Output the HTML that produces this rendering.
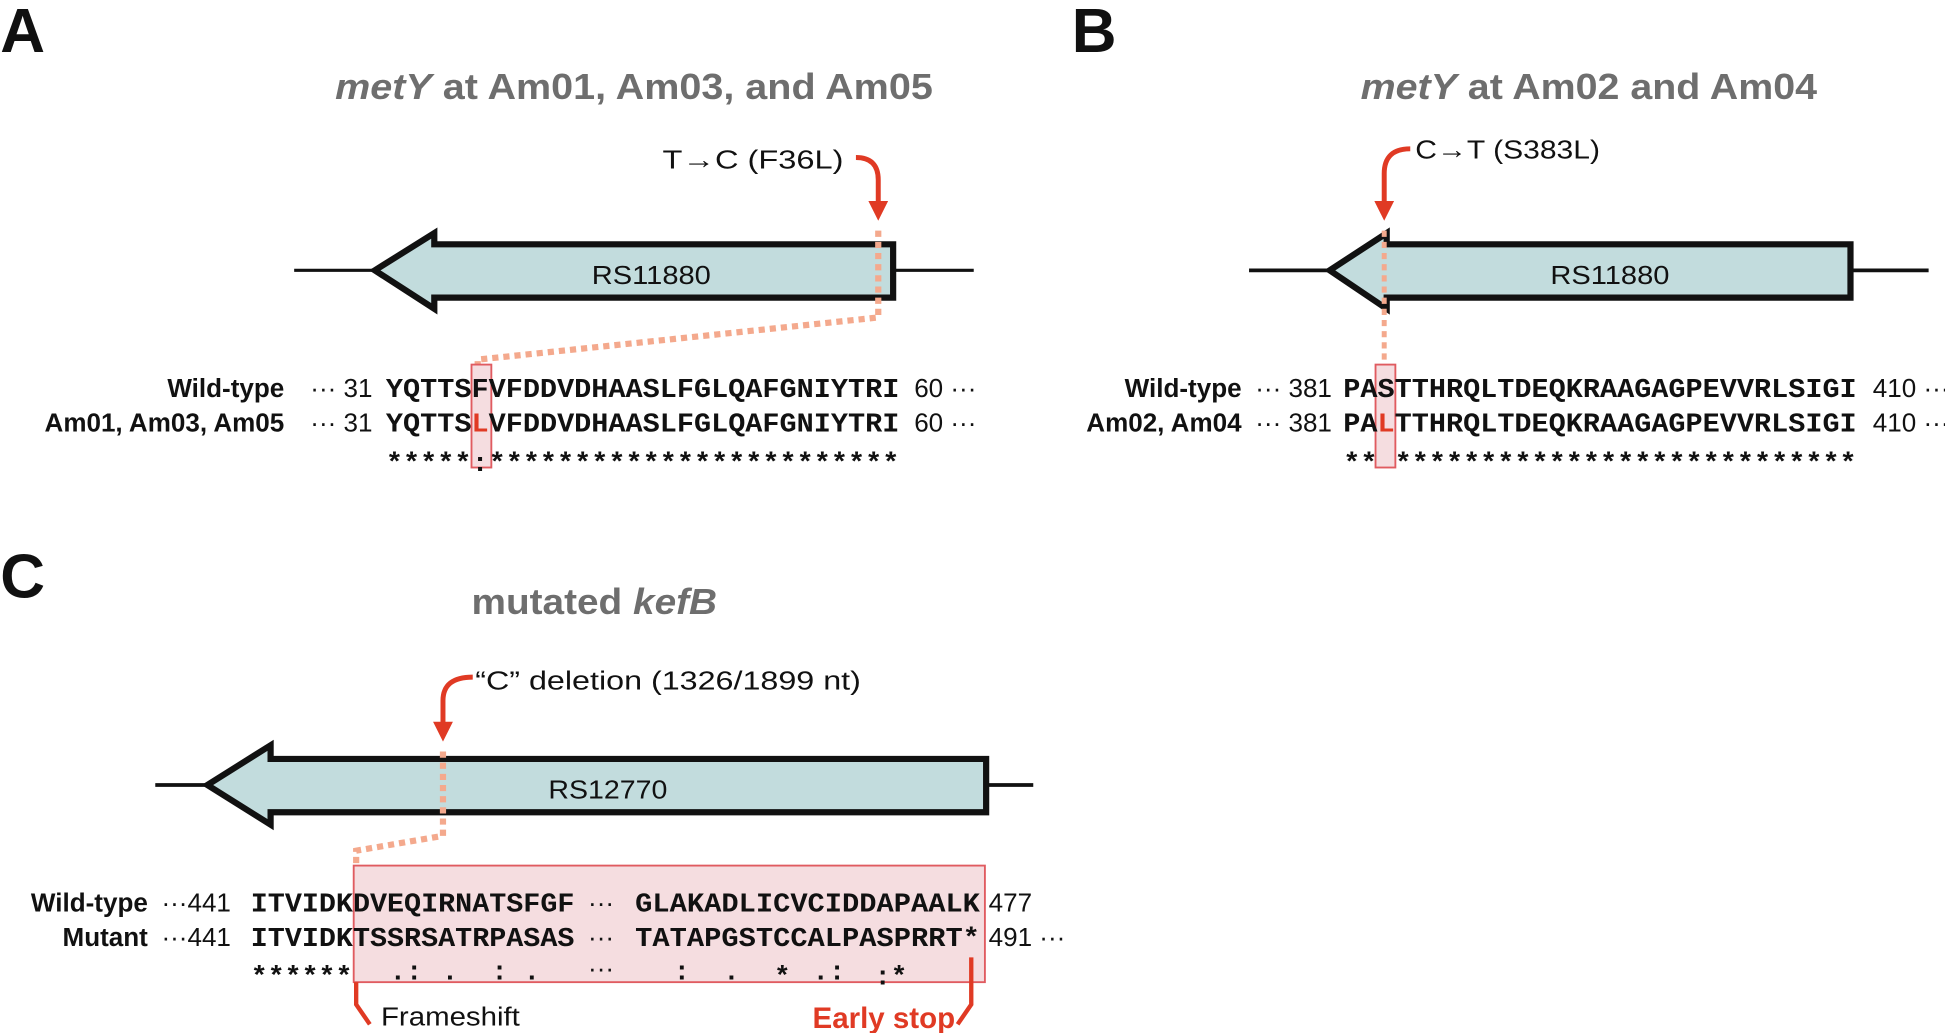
<!DOCTYPE html>
<html><head><meta charset="utf-8"><style>
html,body{margin:0;padding:0;background:#fff;}
svg{display:block;}
text{font-family:"Liberation Sans",sans-serif;}
.m{font-family:"Liberation Mono",monospace;font-weight:bold;font-size:22px;fill:#111;}
.lab{font-weight:bold;font-size:21px;fill:#111;}
.t{font-weight:bold;font-size:29px;fill:#6e6e6e;}
.n{font-size:21px;fill:#111;}
</style></head><body>
<svg width="1945" height="1033" viewBox="0 0 1568 833" xmlns="http://www.w3.org/2000/svg">
<defs><marker id="ah" markerWidth="4" markerHeight="4" refX="2" refY="2" orient="auto" markerUnits="strokeWidth"><path d="M0,0 L4,2 L0,4 z" fill="#e03a24"/></marker></defs>
<g font-weight="bold" font-size="50" fill="#111">
<text x="0" y="42">A</text><text x="864" y="42">B</text><text x="0" y="482">C</text></g>

<!-- Panel A -->
<text class="t" x="270" y="80" textLength="482" lengthAdjust="spacingAndGlyphs"><tspan font-style="italic">metY</tspan> at Am01, Am03, and Am05</text>
<line x1="237" y1="218" x2="785" y2="218" stroke="#111" stroke-width="2.5"/>
<polygon points="302,218 350,188 350,197 720,197 720,240 350,240 350,249" fill="#c2dcdd" stroke="#111" stroke-width="5" stroke-linejoin="miter"/>
<text class="n" x="525" y="229" text-anchor="middle" font-size="24" textLength="96" lengthAdjust="spacingAndGlyphs">RS11880</text>
<text class="n" x="534" y="136" font-size="25" textLength="146" lengthAdjust="spacingAndGlyphs">T→C (F36L)</text>
<path d="M690,127 Q708,127 708,145 L708,170" fill="none" stroke="#e03a24" stroke-width="4" marker-end="url(#ah)"/>
<path d="M708,186 L708,256 L385,290 L385,296" fill="none" stroke="#f4a98d" stroke-width="5" stroke-dasharray="5 4"/>
<rect x="380" y="294" width="16" height="83" fill="#f5dde0" stroke="#e05b60" stroke-width="1.5"/>
<text class="lab" x="229" y="320" text-anchor="end">Wild-type</text>
<text class="lab" x="229" y="348" text-anchor="end">Am01, Am03, Am05</text>
<text class="n" x="250" y="320">··· 31</text><text class="n" x="250" y="348">··· 31</text>
<text class="m" x="311" y="320" textLength="414" lengthAdjust="spacingAndGlyphs">YQTTSFVFDDVDHAASLFGLQAFGNIYTRI</text>
<text class="m" x="311" y="348" textLength="414" lengthAdjust="spacingAndGlyphs">YQTTS<tspan fill="#e03a24">L</tspan>VFDDVDHAASLFGLQAFGNIYTRI</text>
<text class="m" x="311" y="380" textLength="414" lengthAdjust="spacingAndGlyphs">*****:************************</text>
<text class="n" x="737" y="320">60 ···</text><text class="n" x="737" y="348">60 ···</text>

<!-- Panel B -->
<text class="t" x="1097" y="80" textLength="368" lengthAdjust="spacingAndGlyphs"><tspan font-style="italic">metY</tspan> at Am02 and Am04</text>
<line x1="1007" y1="218" x2="1555" y2="218" stroke="#111" stroke-width="3"/>
<polygon points="1072,218 1118,188 1118,197 1492,197 1492,240 1118,240 1118,249" fill="#c2dcdd" stroke="#111" stroke-width="5"/>
<text class="n" x="1298" y="229" text-anchor="middle" font-size="24" textLength="96" lengthAdjust="spacingAndGlyphs">RS11880</text>
<text class="n" x="1141" y="128" font-size="25" textLength="149" lengthAdjust="spacingAndGlyphs">C→T (S383L)</text>
<path d="M1137,120 Q1116,120 1116,140 L1116,170" fill="none" stroke="#e03a24" stroke-width="4" marker-end="url(#ah)"/>
<path d="M1116,186 L1116,292" fill="none" stroke="#f4a98d" stroke-width="4" stroke-dasharray="5 4"/>
<rect x="1109" y="294" width="16" height="83" fill="#f5dde0" stroke="#e05b60" stroke-width="1.5"/>
<text class="lab" x="1001" y="320" text-anchor="end">Wild-type</text>
<text class="lab" x="1001" y="348" text-anchor="end">Am02, Am04</text>
<text class="n" x="1012" y="320">··· 381</text><text class="n" x="1012" y="348">··· 381</text>
<text class="m" x="1083" y="320" textLength="414" lengthAdjust="spacingAndGlyphs">PASTTHRQLTDEQKRAAGAGPEVVRLSIGI</text>
<text class="m" x="1083" y="348" textLength="414" lengthAdjust="spacingAndGlyphs">PA<tspan fill="#e03a24">L</tspan>TTHRQLTDEQKRAAGAGPEVVRLSIGI</text>
<text class="m" x="1083" y="380" textLength="414" lengthAdjust="spacingAndGlyphs">** ***************************</text>
<text class="n" x="1510" y="320">410 ···</text><text class="n" x="1510" y="348">410 ···</text>

<!-- Panel C -->
<text class="t" x="380" y="495" textLength="198" lengthAdjust="spacingAndGlyphs">mutated <tspan font-style="italic">kefB</tspan></text>
<line x1="125" y1="633" x2="833" y2="633" stroke="#111" stroke-width="3"/>
<polygon points="167,633 218,601 218,612 795,612 795,655 218,655 218,665" fill="#c2dcdd" stroke="#111" stroke-width="5"/>
<text class="n" x="490" y="644" text-anchor="middle" font-size="24" textLength="96" lengthAdjust="spacingAndGlyphs">RS12770</text>
<text class="n" x="383" y="556" font-size="25" textLength="311" lengthAdjust="spacingAndGlyphs">“C” deletion (1326/1899 nt)</text>
<path d="M381,546 Q357,546 357,565 L357,590" fill="none" stroke="#e03a24" stroke-width="4" marker-end="url(#ah)"/>
<path d="M357,606 L357,674 L287,686 L287,698" fill="none" stroke="#f4a98d" stroke-width="5" stroke-dasharray="5 4"/>
<rect x="285" y="698" width="509" height="94" fill="#f5dde0" stroke="#e05b60" stroke-width="1.5"/>
<text class="lab" x="119" y="735" text-anchor="end">Wild-type</text>
<text class="lab" x="119" y="763" text-anchor="end">Mutant</text>
<text class="n" x="130" y="735">···441</text><text class="n" x="130" y="763">···441</text>
<text class="m" x="202" y="735" textLength="261" lengthAdjust="spacingAndGlyphs">ITVIDKDVEQIRNATSFGF</text>
<text class="m" x="202" y="763" textLength="261" lengthAdjust="spacingAndGlyphs">ITVIDKTSSRSATRPASAS</text>
<text class="n" x="474" y="735" fill="#999">···</text><text class="n" x="474" y="763" fill="#999">···</text>
<text class="m" x="512" y="735" textLength="278" lengthAdjust="spacingAndGlyphs">GLAKADLICVCIDDAPAALK</text>
<text class="m" x="512" y="763" textLength="278" lengthAdjust="spacingAndGlyphs">TATAPGSTCCALPASPRRT*</text>
<text class="n" x="797" y="735">477</text><text class="n" x="797" y="763">491 ···</text>
<text class="m" x="202" y="794" textLength="82" lengthAdjust="spacingAndGlyphs">******</text>
<text x="314" y="790" class="m">.:</text><text x="356" y="790" class="m">.</text><text x="396" y="790" class="m">:</text><text x="422" y="790" class="m">.</text>
<text x="474" y="788" class="n" fill="#999">···</text>
<text x="543" y="790" class="m">:</text><text x="583" y="790" class="m">.</text><text x="624" y="794" class="m">*</text><text x="655" y="790" class="m">.:</text><text x="705" y="794" class="m">:*</text>
<path d="M287,792 L287,810 L298,826" fill="none" stroke="#e03a24" stroke-width="3.5"/>
<path d="M783,772 L783,810 L772,826" fill="none" stroke="#e03a24" stroke-width="3.5"/>
<text class="n" x="307" y="827" font-size="22" textLength="112" lengthAdjust="spacingAndGlyphs">Frameshift</text>
<text x="655" y="829" font-weight="bold" font-size="24" fill="#e03a24" textLength="115" lengthAdjust="spacingAndGlyphs">Early stop</text>
</svg>
</body></html>
